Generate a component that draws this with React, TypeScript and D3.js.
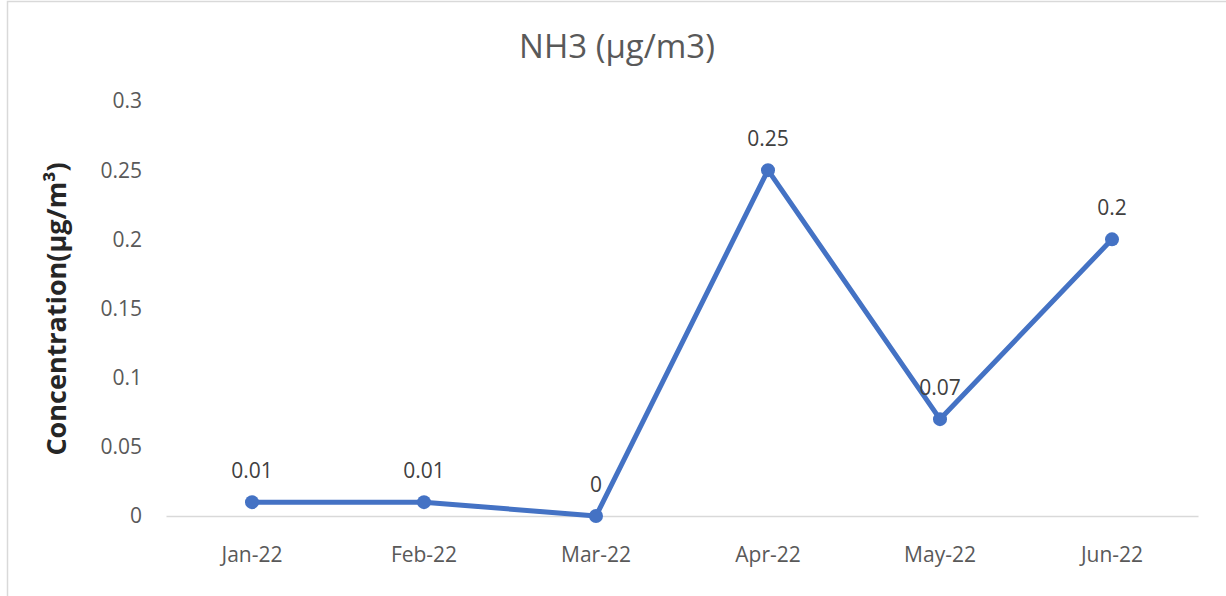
import React, { useEffect, useRef } from 'react';
import * as d3 from 'd3';

const months = ['Jan-22', 'Feb-22', 'Mar-22', 'Apr-22', 'May-22', 'Jun-22'];
const nh3 = [0.01, 0.01, 0, 0.25, 0.07, 0.2];
const yTicks = [0, 0.05, 0.1, 0.15, 0.2, 0.25, 0.3];

const W = 1226;
const H = 596;
const FONT = '"Open Sans", Calibri, sans-serif';

const App = () => {
  const svgRef = useRef<SVGSVGElement>(null);

  useEffect(() => {
    const svg = d3.select(svgRef.current);
    svg.selectAll('*').remove();

    // chart frame
    svg.append('rect')
      .attr('x', 7.5).attr('y', 1.5)
      .attr('width', W + 10).attr('height', H + 10)
      .attr('fill', '#fff')
      .attr('stroke', '#d9d9d9')
      .attr('stroke-width', 1.5);

    const x = d3.scaleBand()
      .domain(months)
      .range([166, 1198]);

    const y = d3.scaleLinear()
      .domain([0, 0.3])
      .range([516, 101]);

    // title
    svg.append('text')
      .attr('x', 617).attr('y', 58)
      .attr('text-anchor', 'middle')
      .style('font-family', FONT)
      .style('font-size', '33px')
      .style('fill', '#595959')
      .text('NH3 (µg/m3)');

    // y axis labels (no axis line)
    svg.append('g')
      .selectAll('text')
      .data(yTicks)
      .enter()
      .append('text')
      .attr('x', 142)
      .attr('y', d => y(d))
      .attr('dy', '0.35em')
      .attr('text-anchor', 'end')
      .style('font-family', FONT)
      .style('font-size', '21px')
      .style('fill', '#595959')
      .text(d => d3.format('~g')(d));

    // x axis
    const xAxis = svg.append('g')
      .attr('transform', 'translate(0,516)')
      .call(d3.axisBottom(x).tickSize(0).tickPadding(31));
    xAxis.select('.domain').attr('stroke', '#d9d9d9').attr('stroke-width', 1.5);
    xAxis.selectAll('text')
      .style('font-family', FONT)
      .style('font-size', '21px')
      .style('fill', '#595959');

    // y axis title
    svg.append('text')
      .attr('transform', 'translate(66,309) rotate(-90)')
      .attr('text-anchor', 'middle')
      .style('font-family', FONT)
      .style('font-size', '27px')
      .style('font-weight', 'bold')
      .style('fill', '#262626')
      .text('Concentration(µg/m³)');

    const cx = (d: string) => (x(d) as number) + x.bandwidth() / 2;

    const line = d3.line<number>()
      .x((_, i) => cx(months[i]))
      .y(d => y(d));

    svg.append('path')
      .datum(nh3)
      .attr('d', line)
      .attr('fill', 'none')
      .attr('stroke', '#4472C4')
      .attr('stroke-width', 5)
      .attr('stroke-linejoin', 'round');

    svg.selectAll('.dot')
      .data(nh3)
      .enter()
      .append('circle')
      .attr('class', 'dot')
      .attr('cx', (_, i) => cx(months[i]))
      .attr('cy', d => y(d))
      .attr('r', 7)
      .attr('fill', '#4472C4');

    svg.selectAll('.lbl')
      .data(nh3)
      .enter()
      .append('text')
      .attr('class', 'lbl')
      .attr('x', (_, i) => cx(months[i]))
      .attr('y', d => y(d) - 24)
      .attr('text-anchor', 'middle')
      .style('font-family', FONT)
      .style('font-size', '21px')
      .style('fill', '#404040')
      .text(d => d3.format('~g')(d));
  }, []);

  return (
    <svg ref={svgRef} width={W} height={H} style={{ position: 'absolute', left: 0, top: 0 }} />
  );
};

export default App;
